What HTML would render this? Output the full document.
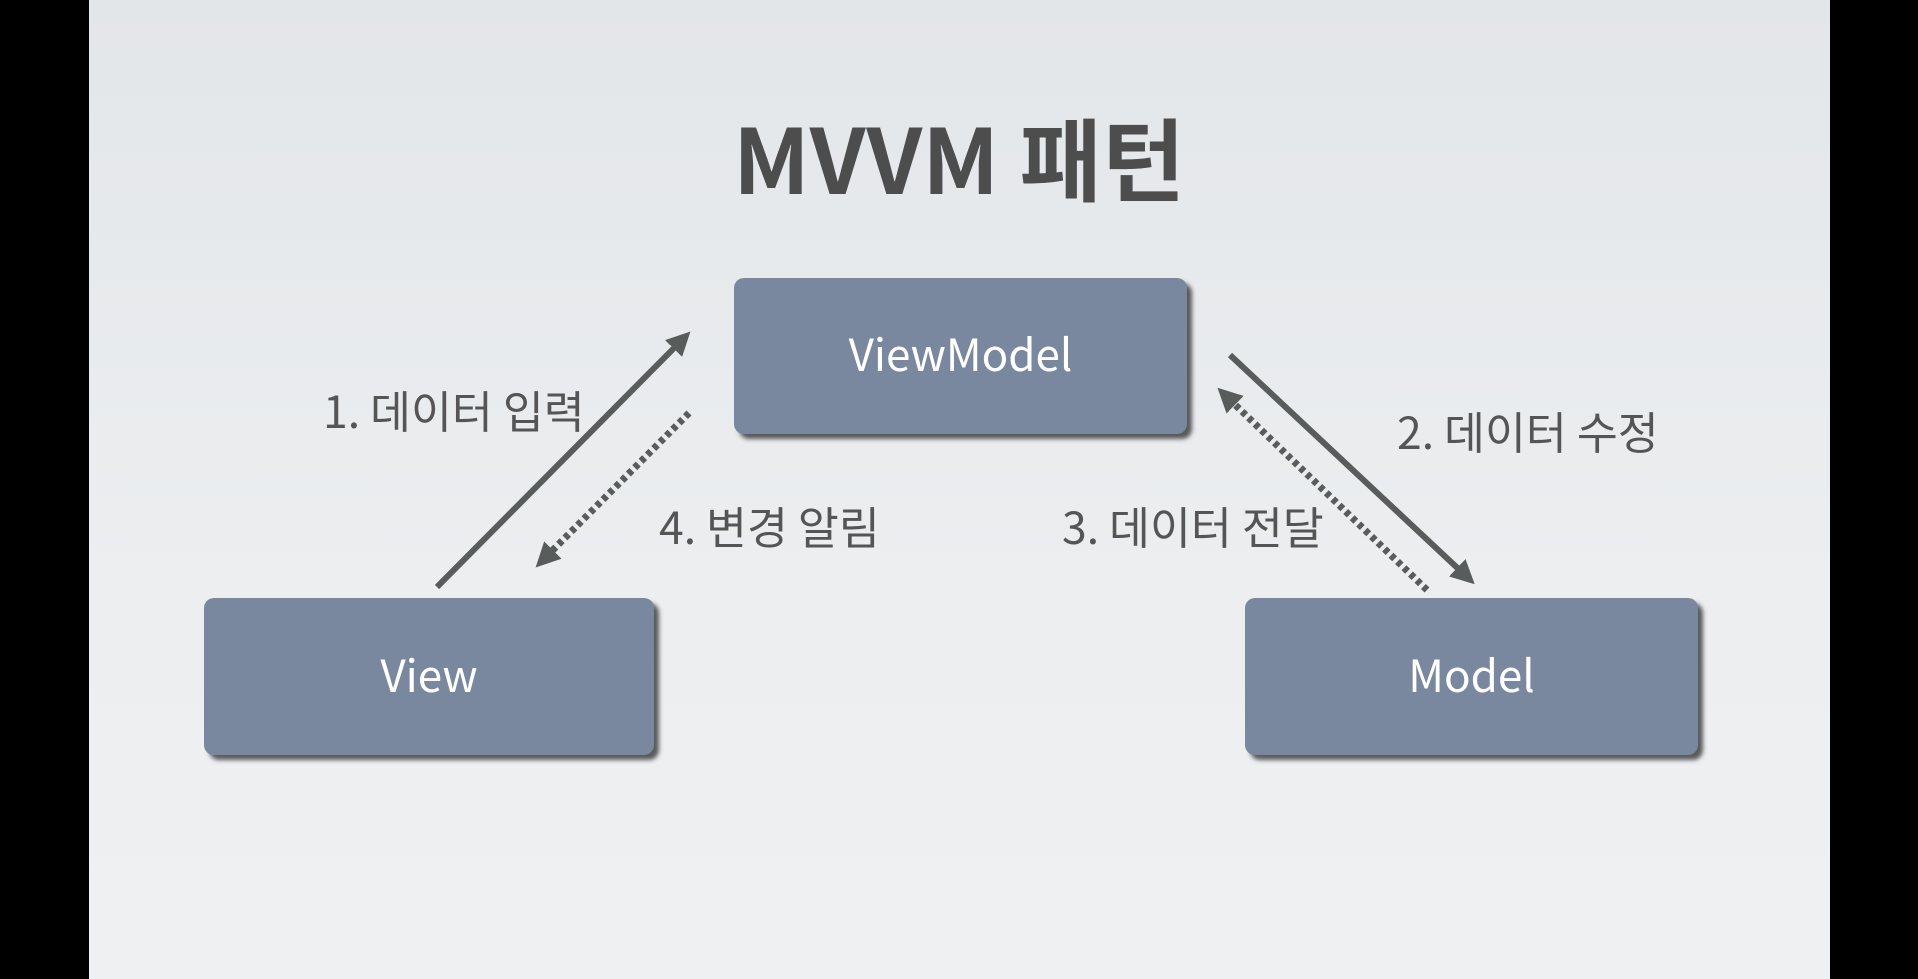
<!DOCTYPE html>
<html><head><meta charset="utf-8"><style>
html,body{margin:0;padding:0;width:1918px;height:979px;overflow:hidden;background:#000;}
.slide{position:absolute;left:89px;top:0;width:1741px;height:979px;background:linear-gradient(180deg,#e3e6e9 0%,#eceef0 60%,#eef0f2 100%);}
.box{position:absolute;background:#79889e;border-radius:10px;box-shadow:5px 5px 4px rgba(40,40,40,0.75);color:#fff;font-family:"Noto Sans CJK KR",sans-serif;font-size:44px;display:flex;align-items:center;justify-content:center;}
.box span{position:relative;top:-4px;}
.lbl{position:absolute;font-family:"Noto Sans CJK KR",sans-serif;font-size:44.5px;color:#555;white-space:nowrap;line-height:1;}
.title{position:absolute;top:101px;text-align:center;font-family:"Noto Sans CJK KR",sans-serif;font-weight:bold;font-size:90px;color:#4d4d4d;line-height:1.2;}
svg{position:absolute;left:0;top:0;}
</style></head><body>
<div class="slide"></div>
<div class="title" style="left:0;width:1918px;">MVVM 패턴</div>
<div class="box" style="left:734px;top:278px;width:453px;height:156px;"><span>ViewModel</span></div>
<div class="box" style="left:204px;top:598px;width:450px;height:157px;"><span>View</span></div>
<div class="box" style="left:1245px;top:598px;width:453px;height:157px;"><span>Model</span></div>
<svg width="1918" height="979">
<defs><marker id="a" markerWidth="4" markerHeight="4" refX="2" refY="2" orient="auto" markerUnits="strokeWidth"><path d="M0,0 L4,2 L0,4 Z" fill="#585d5c"/></marker>
<marker id="b" markerWidth="3.5" markerHeight="3.5" refX="2" refY="1.75" orient="auto" markerUnits="strokeWidth"><path d="M0,0 L3.5,1.75 L0,3.5 Z" fill="#585d5c"/></marker></defs>
<g stroke="#585d5c" fill="none">
<line x1="437" y1="587" x2="682" y2="340" stroke-width="6" marker-end="url(#a)"/>
<line x1="689" y1="413" x2="543" y2="560" stroke-width="7" stroke-dasharray="5,4" marker-end="url(#b)"/>
<line x1="1230" y1="355" x2="1466" y2="576" stroke-width="6" marker-end="url(#a)"/>
<line x1="1427" y1="590" x2="1225" y2="395" stroke-width="7" stroke-dasharray="5,4" marker-end="url(#b)"/>
</g></svg>
<div class="lbl" style="left:323px;top:387px;">1. 데이터 입력</div>
<div class="lbl" style="left:659px;top:503px;">4. 변경 알림</div>
<div class="lbl" style="left:1062px;top:503px;">3. 데이터 전달</div>
<div class="lbl" style="left:1397px;top:408px;">2. 데이터 수정</div>
</body></html>
